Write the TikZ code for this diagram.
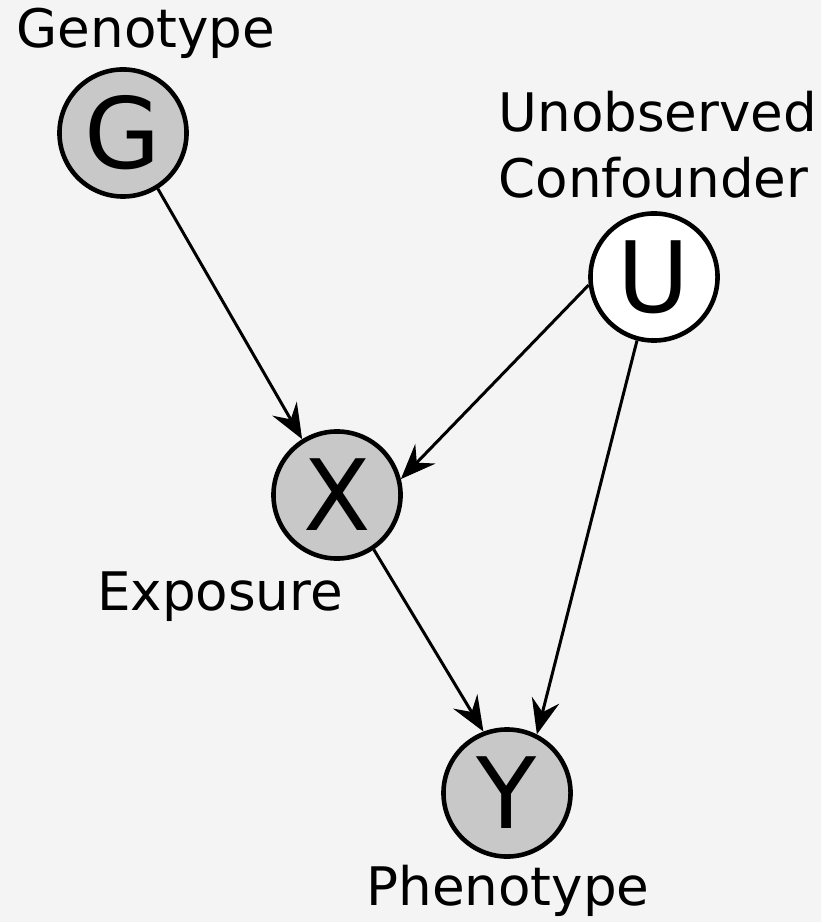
\documentclass[tikz,border=0pt]{standalone}
\usepackage{fontspec}
\setmainfont{DejaVu Sans}
\usetikzlibrary{positioning}
\usetikzlibrary{arrows.meta}
\definecolor{bgcol}{HTML}{F4F4F4}
\definecolor{obscol}{HTML}{C8C8C8}
\tikzset{
	var/.style={circle,draw=black,line width=1.3pt,minimum size=1.27cm,inner sep=0pt,font=\fontsize{28}{28}\selectfont},
	obs/.style={var,fill=obscol},
	hidden/.style={var,fill=white},
	lbl/.style={inner sep=0pt,anchor=base,font=\fontsize{15.1}{18}\selectfont}
}

\begin{document}
\begin{tikzpicture}[x=0.01cm,y=-0.01cm,>={Stealth[length=10pt,width=8pt,inset=3.5pt]},line width=0.85pt]
		\fill[bgcol] (0,0) rectangle (821,922);
		\useasboundingbox (0,0) rectangle (821,922);
		\node[obs] (G) at (123,133) {G};
		\node[hidden] (U) at (654,277) {U};
		\node[obs] (X) at (337,495) {X};
		\node[obs] (Y) at (507,793) {Y};
		\node[lbl] (Gl) at (146,48) {Genotype};
		\node[lbl,anchor=base west] (Ul1) at (497,132) {Unobserved};
		\node[lbl,anchor=base west] (Ul2) at (497,198) {Confounder};
		\node[lbl] (Xl) at (220,610) {Exposure};
		\node[lbl] (Yl) at (508,905) {Phenotype};
		\draw[->] (G.302) -- (X.122);
		\draw[->] (U.187) -- (X.14);
		\draw[->] (X.304) -- (Y.111);
		\draw[->] (U.255) -- (Y.63);
	\end{tikzpicture}
\end{document}
